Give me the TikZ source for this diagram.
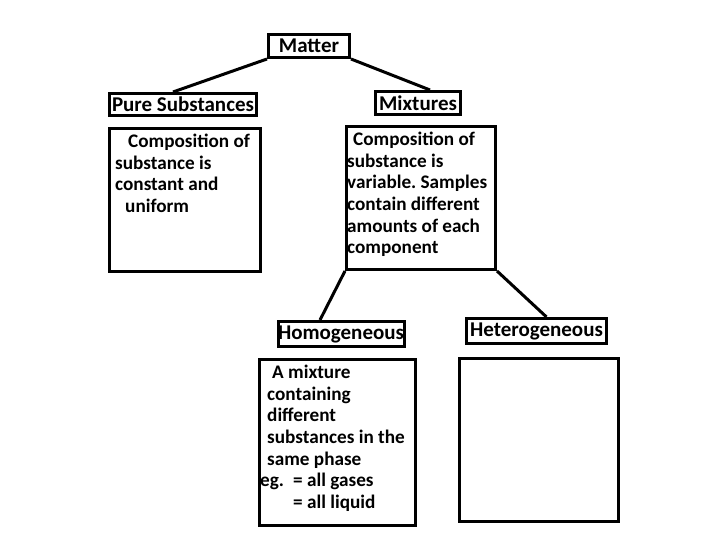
\documentclass[tikz,border=0pt]{standalone}
\usepackage{fontspec}
\setmainfont{Carlito}
\usetikzlibrary{positioning}

\begin{document}
\frenchspacing
\begin{tikzpicture}
  \newdimen\gap
  \gap=10pt

  \tikzstyle{heading} = [
    % The shape:
    rectangle, minimum height=23pt, inner sep=0pt,
    % The border:
    line width=3pt,
    draw=black,
    % Font:
    font=\fontsize{21}{25}\selectfont\bfseries
  ];
  \tikzstyle{infoBox} = [
    % The shape:
    rectangle, inner sep=0pt,
    % The border:
    line width=3pt,
    draw=black
  ];
  \tikzstyle{infoText} = [
    % Just text!
    inner sep=0pt, align=left, anchor=north west,
    font=\fontsize{19.2}{21.7}\selectfont\bfseries
  ];
  \tikzstyle{link} = [
    draw = black,
    line width=3pt
  ];

  \useasboundingbox (0,0) rectangle (720pt,540pt);

  \node [heading, minimum width=81pt] (matter) at (309pt,494pt) {Matter};

  \node [heading, minimum width=147pt, minimum height=22pt,
         below left = 33pt and 9pt of matter] (pure) {Pure Substances};
  \node [heading, minimum width=85pt,
         below right = 31pt and 23pt of matter] (mixtures) {Mixtures};

  \node [infoBox, minimum width=151pt, minimum height=143pt,
         below = \gap of pure.south west, anchor=north west] (pureDesc) {};
  \node [infoBox, minimum width=149pt, minimum height=143pt,
         below = 0.9\gap of mixtures, xshift=3pt] (mixDesc) {};

  \node [heading, minimum width=125pt, minimum height=25pt,
         below = 4.9\gap of mixDesc, xshift=-80pt] (homog) {Homogeneous};
  \node [heading, minimum width=140pt, minimum height=25pt,
         below = 4.6\gap of mixDesc, xshift=115.5pt] (heterog) {Heterogeneous};

  \node [infoBox, minimum width=156pt, minimum height=166pt,
         below = \gap of homog, xshift=-3.5pt] (homDesc) {};
  \node [infoBox, minimum width=159pt, minimum height=163pt,
         below = 1.2\gap of heterog, xshift=2.5pt] (hetDesc) {};

  \node [infoText, below right = 5pt and 7pt of pureDesc.north west] (pureText)
        {\strut\hspace*{13pt}Composition of\\substance is\\constant and\\\hspace*{10pt}uniform};
  \node [infoText, below right = 5pt and 2pt of mixDesc.north west] (mixText)
        {\strut\hspace*{6pt}Composition of\\substance is\\variable. Samples\\contain different\\amounts of each\\component};
  \node [infoText, below right = 5pt and 2pt of homDesc.north west] (homText)
        {\strut\hspace*{12pt}A mixture\\\hspace*{7pt}containing\\\hspace*{7pt}different\\\hspace*{7pt}substances in the\\\hspace*{7pt}same phase\\\makebox[33pt][l]{eg.}= all gases\\\hspace*{33pt}= all liquid};

  \path [link] (matter.south west) to ([xshift=-10pt]pure.north);
  \path [link] (matter.south east) to ([xshift=12pt]mixtures.north);
  \path [link] (mixDesc.south west) to ([xshift=-21pt]homog.north);
  \path [link] (mixDesc.south east) to ([xshift=10pt]heterog.north);
\end{tikzpicture}
\end{document}
